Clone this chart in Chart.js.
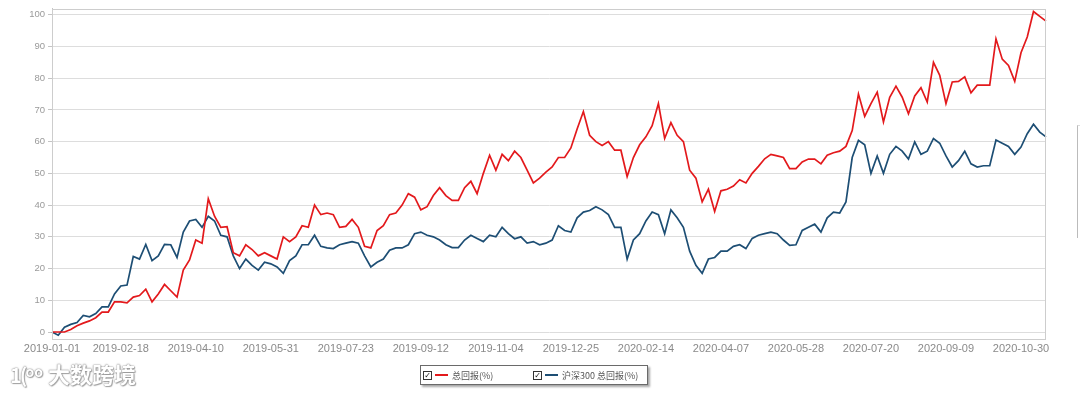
<!DOCTYPE html>
<html><head><meta charset="utf-8">
<script src="https://cdn.jsdelivr.net/npm/chart.js@4.4.1/dist/chart.umd.min.js"></script>
<style>
html,body{margin:0;padding:0;background:#fff;width:1080px;height:394px;overflow:hidden;font-family:"Liberation Sans",Arial,sans-serif;}
#wrap{position:relative;width:1080px;height:394px;}
#c{position:absolute;left:0;top:0;}
.legend{position:absolute;left:420px;top:365px;width:226px;height:18px;border:1px solid #6a6a6a;background:#fff;box-shadow:2px 2px 2px rgba(0,0,0,0.35);font-family:"Noto Sans CJK SC",sans-serif;font-size:9px;color:#555;}
.item{position:absolute;top:0;height:18px;display:flex;align-items:center;white-space:nowrap;}
.cb{width:7px;height:7px;border:1px solid #333;font-size:8px;line-height:7px;text-align:center;color:#111;font-family:"DejaVu Sans",sans-serif;margin-right:3px;}
.sw{width:13px;height:2px;margin-right:4px;}
.wm{position:absolute;left:10px;top:357px;font-family:"Noto Sans CJK SC",sans-serif;font-weight:bold;font-size:22px;color:#fff;text-shadow:0 0 1px #777,0 0 2px #999,1px 1px 1px #aaa;}
.edge{position:absolute;left:1077px;top:125px;width:6px;height:112px;border-left:1px solid #bbb;border-top:1px solid #ddd;}
</style></head>
<body><div id="wrap"><canvas id="c" width="1080" height="394"></canvas>
<div class="wm"><span style="font-size:20px;letter-spacing:-2px">1(</span><span style="font-size:14px;vertical-align:6px">oo</span> 大数跨境</div>
<div class="legend">
 <div class="item" style="left:2px"><div class="cb">✓</div><div class="sw" style="background:#e3191c"></div><span>总回报(%)</span></div>
 <div class="item" style="left:112px"><div class="cb">✓</div><div class="sw" style="background:#1d4e74"></div><span>沪深300 总回报(%)</span></div>
</div>
<div class="edge"></div>
</div>
<script>
const tickLabels = ['2019-01-01','2019-02-18','2019-04-10','2019-05-31','2019-07-23','2019-09-12','2019-11-04','2019-12-25','2020-02-14','2020-04-07','2020-05-28','2020-07-20','2020-09-09','2020-10-30'];
const tickIdx = [0,11,23,35,47,59,71,83,95,107,119,131,143,155];
const yTicks = [0,10,20,30,40,50,60,70,80,90,100];
const seriesNames = ['总回报(%)','沪深300 总回报(%)'];
const fundReturn = [
0,0,0,0.8,2,2.8,3.5,4.5,6.3,6.3,
9.5,9.5,9.2,11,11.5,13.5,9.5,12,15,13,
11,19.5,22.7,29,28,42,36.5,33,33.2,25,
24,27.5,26,24,25,24,23,30,28.5,30,
33.5,33,40,37,37.5,37,33,33.3,35.5,33,
27,26.5,32,33.5,37,37.5,40,43.6,42.5,38.5,
39.5,43,45.5,43,41.5,41.5,45.5,47.5,43.6,50,
55.7,51,56,54,57,55,51,47,48.5,50.4,
52,55,55,58,64,69.5,62,60,58.8,60,
57.3,57.3,49,55,59,61.5,65,72,61,66,
62,60,51,48.5,41,45,38,44.5,45,46,
48,47,50,52.2,54.6,56,55.5,55,51.5,51.5,
53.6,54.5,54.5,53,55.7,56.5,57,58.5,63.5,75,
68,72,75.6,66.2,74,77.5,74,68.8,74.4,77,
72.5,85,80.9,72,78.8,79,80.4,75.4,77.8,77.8,
77.8,92.4,86,84,79,88,93,101,99.5,98];
const hs300Return = [
0,-1,1.5,2.4,3,5.2,4.8,5.8,7.9,7.9,
12,14.5,14.8,23.8,23,27.6,22.5,24,27.6,27.5,
23.5,31.5,35,35.5,33,36.5,35,30.5,30,24,
20,23,21,19.5,22,21.5,20.5,18.5,22.5,24,
27.5,27.5,30.5,27,26.5,26.3,27.5,28,28.5,28,
24,20.5,22,23,25.8,26.5,26.5,27.5,31,31.5,
30.5,30,29,27.5,26.6,26.6,29,30.5,29.5,28.5,
30.5,30,33,31,29.4,30,28,28.5,27.5,28,
29,33.5,32,31.5,36,37.8,38.3,39.5,38.5,37,
33,33,23,29,31,35,37.8,37,31,38.5,
36,33,25.5,21,18.5,23,23.5,25.5,25.5,27,
27.5,26.3,29.5,30.5,31,31.5,31,29,27.3,27.5,
32,33,34,31.5,36,37.8,37.5,41,55,60.4,
59,50,55.5,50,56,58.5,57,54.5,59.9,56,
57,61,59.5,55.5,52,54,57,53,52,52.4,
52.4,60.5,59.5,58.5,56,58.3,62.5,65.5,63,61.5];

const labels = fundReturn.map((_, i) => { const k = tickIdx.indexOf(i); return k >= 0 ? tickLabels[k] : ''; });

const frame = {
  id: 'frame',
  afterDraw(chart) {
    const {ctx, chartArea: a} = chart;
    ctx.save();
    ctx.strokeStyle = '#cdcdcd';
    ctx.lineWidth = 1;
    ctx.strokeRect(Math.round(a.left) + 0.5, Math.round(a.top) + 0.5, Math.round(a.right - a.left) - 1, Math.round(a.bottom - a.top));
    ctx.restore();
  }
};

new Chart(document.getElementById('c'), {
  type: 'line',
  data: {
    labels,
    datasets: [
      {label: seriesNames[0], data: fundReturn, borderColor: '#e3191c', borderWidth: 1.7, pointRadius: 0, tension: 0, fill: false},
      {label: seriesNames[1], data: hs300Return, borderColor: '#1d4e74', borderWidth: 1.7, pointRadius: 0, tension: 0, fill: false}
    ]
  },
  options: {
    responsive: false,
    animation: false,
    devicePixelRatio: 1,
    layout: {padding: {left: 0, right: 34, top: 8, bottom: 33}},
    plugins: {legend: {display: false}, tooltip: {enabled: false}},
    scales: {
      x: {
        type: 'category',
        grid: {display: false, drawTicks: false},
        border: {display: false},
        ticks: {autoSkip: false, maxRotation: 0, minRotation: 0, padding: 3, color: '#8a8a8a',
          font: {family: '"Liberation Sans", Arial, sans-serif', size: 11},
          callback: function(v, i) { const l = labels[i]; return l === '' ? null : l; }},
        afterFit(s) { s.height = 22; }
      },
      y: {
        min: -2.2, max: 101.9,
        afterBuildTicks(s) { s.ticks = yTicks.map(v => ({value: v})); },
        grid: {color: '#dddddd', lineWidth: 1, tickLength: 4, tickColor: '#c4c4c4'},
        border: {display: true, color: '#c4c4c4'},
        ticks: {padding: 3, color: '#9a9a9a', font: {family: '"Liberation Sans", Arial, sans-serif', size: 9.5}},
        afterFit(s) { s.width = 52; }
      }
    }
  },
  plugins: [frame]
});
</script></body></html>
